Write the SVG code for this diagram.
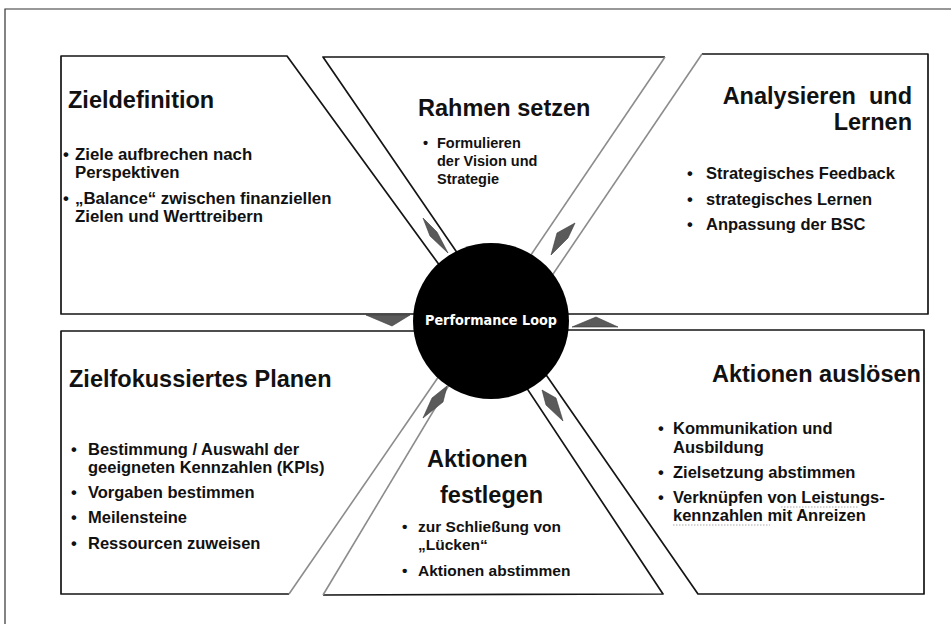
<svg xmlns="http://www.w3.org/2000/svg" width="951" height="624" viewBox="0 0 951 624">
  <style>
    .panel { fill: #ffffff; stroke: none; }
    .edge { fill: none; stroke: #151515; stroke-width: 1.7; stroke-linejoin: round; }
    .soft { fill: none; stroke: #8c8c8c; stroke-width: 1.6; }
    .frame { fill: none; stroke: #333333; stroke-width: 1.2; }
    .arrow { fill: #5a5a5a; stroke: #3a3a3a; stroke-width: 0.6; }
    .title { font-family: "Liberation Sans", Arial, sans-serif; font-weight: bold; font-size: 23.5px; fill: #111111; white-space: pre; }
    .item { font-family: "Liberation Sans", Arial, sans-serif; font-weight: bold; font-size: 16.5px; fill: #111111; white-space: pre; }
    .spell { fill: none; stroke: #a8a8a8; stroke-width: 1; stroke-dasharray: 1.5 1.5; }
    .hub-label { font-family: "DejaVu Sans", sans-serif; font-weight: bold; font-size: 13.5px; fill: #ffffff; }
  </style>

  <!-- outer frame (top and left border) -->
  <path class="frame" d="M5,624 V9 H951"/>

  <!-- top left panel -->
  <g id="zieldefinition">
    <polygon class="panel" points="61,56 287,56 475,314 61,314"/>
    <path class="edge" d="M475,314 H61 V56 H287 L475,314"/>
    <text class="title" x="68" y="108">Zieldefinition</text>
    <g class="item" style="font-size:16.8px">
      <text x="63" y="160">•</text>
      <text x="75" y="160">Ziele aufbrechen nach</text>
      <text x="75" y="178">Perspektiven</text>
      <text x="63" y="204">•</text>
      <text x="75" y="204">„Balance“ zwischen finanziellen</text>
      <text x="75" y="222">Zielen und Werttreibern</text>
    </g>
  </g>

  <!-- top centre panel -->
  <g id="rahmen-setzen">
    <polygon class="panel" points="323,57 665,57 495,308"/>
    <path class="edge" d="M495,308 L323,57 H665"/>
    <path class="soft" d="M665,57 L495,308"/>
    <text class="title" x="418" y="116">Rahmen setzen</text>
    <g class="item" style="font-size:14.5px">
      <text x="423" y="148">•</text>
      <text x="437" y="148">Formulieren</text>
      <text x="437" y="166">der  Vision und</text>
      <text x="437" y="184">Strategie</text>
    </g>
  </g>

  <!-- top right panel -->
  <g id="analysieren-lernen">
    <polygon class="panel" points="702,54 928,54 928,314 526,314"/>
    <path class="edge" d="M702,54 H928 V314 H526"/>
    <path class="soft" d="M702,54 L526,314"/>
    <text class="title" x="912" y="104" text-anchor="end">Analysieren  und</text>
    <text class="title" x="912" y="130" text-anchor="end">Lernen</text>
    <g class="item">
      <text x="687" y="179">•</text>
      <text x="706" y="179">Strategisches Feedback</text>
      <text x="687" y="205">•</text>
      <text x="706" y="205">strategisches Lernen</text>
      <text x="687" y="230">•</text>
      <text x="706" y="230">Anpassung der BSC</text>
    </g>
  </g>

  <!-- bottom left panel -->
  <g id="zielfokussiertes-planen">
    <polygon class="panel" points="61,331 470,331 289,594 61,594"/>
    <path class="edge" d="M470,331 H61 V594 H289"/>
    <path class="soft" d="M289,594 L470,331"/>
    <text class="title" x="69" y="387">Zielfokussiertes Planen</text>
    <g class="item">
      <text x="71" y="455">•</text>
      <text x="88" y="455">Bestimmung / Auswahl der</text>
      <text x="88" y="473">geeigneten Kennzahlen (KPIs)</text>
      <text x="71" y="498">•</text>
      <text x="88" y="498">Vorgaben bestimmen</text>
      <text x="71" y="523">•</text>
      <text x="88" y="523">Meilensteine</text>
      <text x="71" y="549">•</text>
      <text x="88" y="549">Ressourcen zuweisen</text>
    </g>
  </g>

  <!-- bottom centre panel -->
  <g id="aktionen-festlegen">
    <polygon class="panel" points="485,325 663,594 323,595"/>
    <path class="edge" d="M485,325 L663,594 L323,595"/>
    <path class="soft" d="M323,595 L485,325"/>
    <text class="title" x="427" y="467">Aktionen</text>
    <text class="title" x="440" y="503">festlegen</text>
    <g class="item" style="font-size:15.5px">
      <text x="402" y="532">•</text>
      <text x="418" y="532">zur Schließung von</text>
      <text x="418" y="550">„Lücken“</text>
      <text x="402" y="576">•</text>
      <text x="418" y="576">Aktionen abstimmen</text>
    </g>
  </g>

  <!-- bottom right panel -->
  <g id="aktionen-ausloesen">
    <polygon class="panel" points="515,330 924,330 924,594 698,594"/>
    <path class="edge" d="M515,330 H924 V594 H698 L515,330"/>
    <text class="title" x="712" y="382">Aktionen auslösen</text>
    <g class="item">
      <text x="658" y="434">•</text>
      <text x="673" y="434">Kommunikation und</text>
      <text x="673" y="453">Ausbildung</text>
      <text x="658" y="478">•</text>
      <text x="673" y="478">Zielsetzung abstimmen</text>
      <text x="658" y="503">•</text>
      <text x="673" y="503">Verknüpfen von Leistungs-</text>
      <text x="673" y="521">kennzahlen mit Anreizen</text>
    </g>
    <path class="spell" d="M781,507 H858 M673,525 H770"/>
  </g>

  <!-- flow arrows in the channels between the panels -->
  <g id="connectors">
    <polygon class="arrow" points="423,218 437,232 448,253 430,236"/>
    <polygon class="arrow" points="551,255 557,233 575,223 568,238"/>
    <polygon class="arrow" points="366,315 410,315 392,326"/>
    <polygon class="arrow" points="572,327 618,327 596,317"/>
    <polygon class="arrow" points="423,418 432,398 447,386 443,402"/>
    <polygon class="arrow" points="542,390 556,398 563,421 546,405"/>
  </g>

  <!-- central hub -->
  <g id="performance-loop">
    <circle cx="491" cy="321" r="78" fill="#000000"/>
    <text class="hub-label" x="491" y="325" text-anchor="middle" textLength="132" lengthAdjust="spacingAndGlyphs">Performance Loop</text>
  </g>
</svg>
